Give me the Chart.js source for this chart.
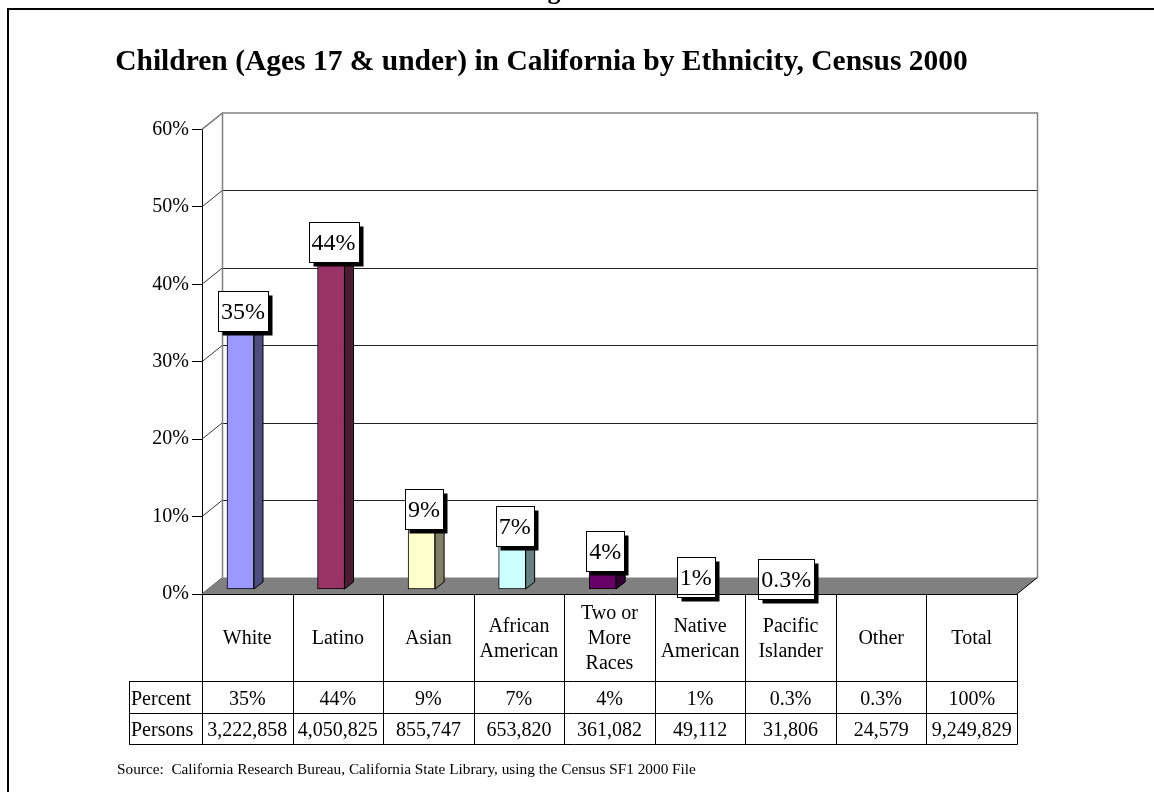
<!DOCTYPE html>
<html>
<head>
<meta charset="utf-8">
<title>Children (Ages 17 & under) in California by Ethnicity, Census 2000</title>
<script src="https://cdn.jsdelivr.net/npm/chart.js@4.4.1/dist/chart.umd.min.js"></script>
<style>
  html, body { margin: 0; padding: 0; background: #fff; }
  #wrap { position: relative; width: 1154px; height: 792px; overflow: hidden; }
</style>
</head>
<body>
<div id="wrap"><canvas id="chart" width="1154" height="792"></canvas></div>
<script>
// chart data
const categories = ['White', 'Latino', 'Asian', ['African', 'American'], ['Two or', 'More', 'Races'],
  ['Native', 'American'], ['Pacific', 'Islander'], 'Other', 'Total'];
const barValues = [34.8, 43.8, 9.3, 7.1, 3.9, 0.5, 0.3, null, null];
const percentLabels = ['35%', '44%', '9%', '7%', '4%', '1%', '0.3%', '0.3%', '100%'];
const persons = ['3,222,858', '4,050,825', '855,747', '653,820', '361,082', '49,112', '31,806', '24,579', '9,249,829'];
const rowLabels = ['Percent', 'Persons'];
const barColors = ['#9999FF', '#993366', '#FFFFCC', '#CCFFFF', '#660066', '#FF8080', '#0066CC', '#CCCCFF', '#000080'];
const sideColors = ['#4D4D80', '#4D1A33', '#808066', '#668080', '#330033', '#804040', '#003366', '#666680', '#000040'];

const SERIF = '"Liberation Serif", "Times New Roman", serif';
const WALL_DX = 20.5, WALL_DY = 16.5;  // depth of back wall
const BAR_DX = 9, BAR_DY = 7;          // depth of each bar
const TABLE_HEAD = 681, TABLE_PCT = 713, TABLE_END = 744;

// back wall, gridlines and floor
const wallPlugin = {
  id: 'wall',
  beforeDatasetsDraw(chart) {
    const { ctx, chartArea: a, scales: { y } } = chart;
    const bl = a.left + WALL_DX, br = a.right + WALL_DX;
    const bt = y.getPixelForValue(60) - WALL_DY, bb = y.getPixelForValue(0) - WALL_DY;
    ctx.save();
    ctx.lineWidth = 1;
    y.ticks.forEach(t => {
      const py = y.getPixelForValue(t.value);
      // diagonal from the front axis to the wall
      ctx.strokeStyle = '#333';
      ctx.beginPath();
      ctx.moveTo(a.left, py);
      ctx.lineTo(bl, py - WALL_DY);
      ctx.stroke();
      if (t.value > 0 && t.value < 60) {
        ctx.strokeStyle = '#222';
        ctx.beginPath();
        ctx.moveTo(bl, Math.round(py - WALL_DY) + 0.5);
        ctx.lineTo(br, Math.round(py - WALL_DY) + 0.5);
        ctx.stroke();
      }
    });
    // wall border
    ctx.strokeStyle = '#808080';
    ctx.lineWidth = 1.5;
    ctx.beginPath();
    ctx.moveTo(a.left, y.getPixelForValue(60));
    ctx.lineTo(bl, bt);
    ctx.lineTo(br, bt);
    ctx.lineTo(br, bb);
    ctx.moveTo(bl, bt);
    ctx.lineTo(bl, bb);
    ctx.stroke();
    // floor
    ctx.fillStyle = '#808080';
    ctx.beginPath();
    ctx.moveTo(a.left, a.bottom);
    ctx.lineTo(bl, bb);
    ctx.lineTo(br, bb);
    ctx.lineTo(a.right, a.bottom);
    ctx.closePath();
    ctx.fill();
    ctx.strokeStyle = '#000';
    ctx.lineWidth = 1;
    ctx.beginPath();
    ctx.moveTo(br, bb);
    ctx.lineTo(a.right, a.bottom);
    ctx.stroke();
    ctx.restore();
  },
  afterDatasetsDraw(chart) {
    const { ctx } = chart;
    const meta = chart.getDatasetMeta(0);
    ctx.save();
    ctx.lineWidth = 1;
    ctx.strokeStyle = '#000';
    meta.data.forEach((bar, i) => {
      if (barValues[i] == null) return;
      const { x, y, base, width } = bar.getProps(['x', 'y', 'base', 'width'], true);
      const l = x - width / 2, r = x + width / 2;
      // side face
      ctx.fillStyle = sideColors[i];
      ctx.beginPath();
      ctx.moveTo(r, y);
      ctx.lineTo(r + BAR_DX, y - BAR_DY);
      ctx.lineTo(r + BAR_DX, base - BAR_DY);
      ctx.lineTo(r, base);
      ctx.closePath();
      ctx.fill();
      ctx.stroke();
      // top face
      ctx.fillStyle = barColors[i];
      ctx.beginPath();
      ctx.moveTo(l, y);
      ctx.lineTo(l + BAR_DX, y - BAR_DY);
      ctx.lineTo(r + BAR_DX, y - BAR_DY);
      ctx.lineTo(r, y);
      ctx.closePath();
      ctx.fill();
      ctx.stroke();
    });
    // value labels in boxes with a shadow
    ctx.font = '24px ' + SERIF;
    ctx.textAlign = 'center';
    ctx.textBaseline = 'alphabetic';
    meta.data.forEach((bar, i) => {
      if (barValues[i] == null) return;
      const text = percentLabels[i];
      const w = Math.round(ctx.measureText(text).width + 6), h = 40;
      const cx = bar.x + 2.5, cy = bar.y - 8;
      const bx = Math.round(cx - w / 2) + 0.5, by = Math.round(cy - h / 2) + 0.5;
      ctx.fillStyle = '#000';
      ctx.fillRect(bx + 4, by + 4, w, h);
      ctx.fillStyle = '#fff';
      ctx.fillRect(bx, by, w, h);
      ctx.strokeRect(bx, by, w, h);
      ctx.fillStyle = '#000';
      ctx.fillText(text, cx, cy + 8);
    });
    ctx.restore();
  },
  afterDraw(chart) {
    const { ctx, chartArea: a, scales: { x } } = chart;
    const step = (a.right - a.left) / categories.length;
    const px = v => Math.round(v) + 0.5;
    ctx.save();
    ctx.strokeStyle = '#000';
    ctx.lineWidth = 1;
    ctx.beginPath();
    // horizontal rules
    ctx.moveTo(a.left, px(a.bottom)); ctx.lineTo(a.right, px(a.bottom));
    [TABLE_HEAD, TABLE_PCT, TABLE_END].forEach(yy => {
      ctx.moveTo(129, px(yy)); ctx.lineTo(px(a.right), px(yy));
    });
    ctx.moveTo(px(129), TABLE_HEAD); ctx.lineTo(px(129), TABLE_END + 0.5);
    // column rules
    for (let i = 0; i <= categories.length; i++) {
      const cx = px(x.getPixelForValue(Math.min(i, categories.length - 1)) + (i === categories.length ? step / 2 : -step / 2));
      ctx.moveTo(cx, a.bottom); ctx.lineTo(cx, TABLE_END + 0.5);
    }
    ctx.stroke();

    ctx.fillStyle = '#000';
    ctx.font = '20px ' + SERIF;
    ctx.textAlign = 'center';
    ctx.textBaseline = 'alphabetic';
    const headMid = (a.bottom + TABLE_HEAD) / 2;
    categories.forEach((c, i) => {
      const cx = x.getPixelForValue(i);
      const lines = Array.isArray(c) ? c : [c];
      lines.forEach((ln, k) => {
        ctx.fillText(ln, cx, headMid + (k - (lines.length - 1) / 2) * 25 + 6.5);
      });
      ctx.fillText(percentLabels[i], cx, (TABLE_HEAD + TABLE_PCT) / 2 + 7.5);
      ctx.fillText(persons[i], cx, (TABLE_PCT + TABLE_END) / 2 + 7.5);
    });
    ctx.textAlign = 'left';
    ctx.fillText(rowLabels[0], 131, (TABLE_HEAD + TABLE_PCT) / 2 + 7.5);
    ctx.fillText(rowLabels[1], 131, (TABLE_PCT + TABLE_END) / 2 + 7.5);

    // source note
    ctx.font = '15.3px ' + SERIF;
    ctx.fillText('Source:  California Research Bureau, California State Library, using the Census SF1 2000 File', 117, 774);

    // page frame and the cut off heading above it
    ctx.fillRect(7, 8, 1147, 2);
    ctx.fillRect(7, 8, 2, 784);
    ctx.font = 'bold 26px ' + SERIF;
    ctx.textAlign = 'center';
    ctx.fillText('g', 554, -1);
    ctx.restore();
  }
};

new Chart(document.getElementById('chart'), {
  type: 'bar',
  data: {
    labels: categories,
    datasets: [{
      data: barValues.map((v, i) => ({ x: i, y: v })),
      xAxisID: 'xb',
      yAxisID: 'yb',
      backgroundColor: barColors,
      borderColor: '#000',
      borderWidth: 1,
      borderSkipped: false,
      barThickness: 27
    }]
  },
  options: {
    responsive: false,
    animation: false,
    layout: { padding: { left: 66, right: 137, top: 0, bottom: 198 } },
    plugins: {
      legend: { display: false },
      tooltip: { enabled: false },
      title: {
        display: true,
        text: 'Children (Ages 17 & under) in California by Ethnicity, Census 2000',
        color: '#000',
        font: { family: SERIF, size: 29.5, weight: 'bold', lineHeight: 1.2 },
        padding: { top: 45, bottom: 49 }
      }
    },
    scales: {
      x: { type: 'category', display: false, offset: true },
      xb: { type: 'linear', display: false, offset: false, min: -0.425, max: 8.575 },
      y: {
        min: 0, max: 60,
        afterFit(scale) { scale.width = 136; },
        ticks: { stepSize: 10, padding: 3, color: '#000', font: { family: SERIF, size: 20 },
          callback: v => v + '%' },
        grid: { drawOnChartArea: false, drawTicks: true, tickLength: 10, color: '#000' },
        border: { display: true, color: '#000', width: 1 }
      },
      yb: { type: 'linear', display: false, min: -0.65, max: 59.35 }
    }
  },
  plugins: [wallPlugin]
});
</script>
</body>
</html>
